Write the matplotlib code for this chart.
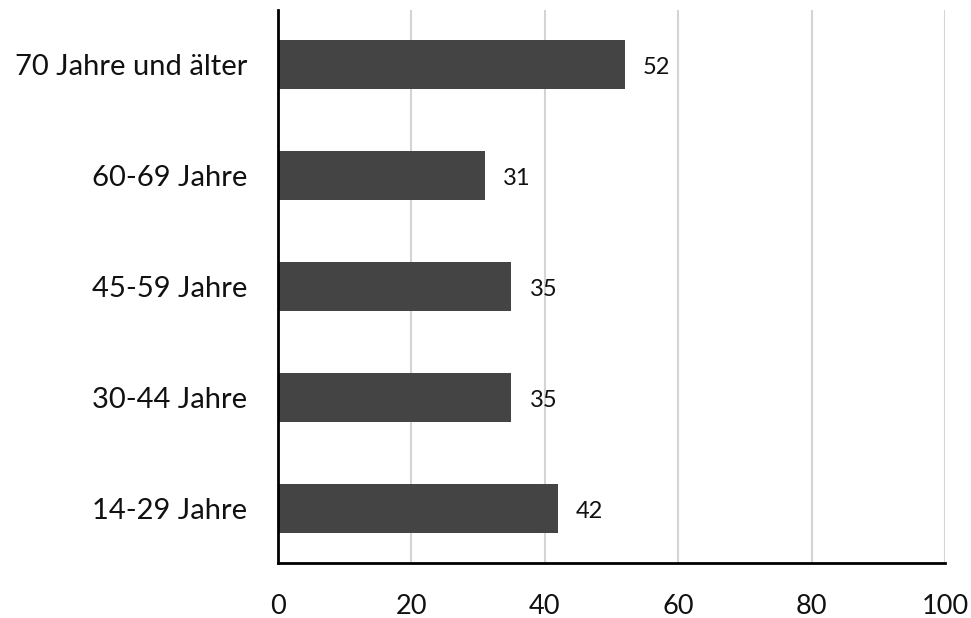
import matplotlib
matplotlib.use('Agg')
import matplotlib.pyplot as plt
import numpy as np

plt.rcParams['font.family'] = ['Lato', 'DejaVu Sans']

categories = ['14-29 Jahre', '30-44 Jahre', '45-59 Jahre', '60-69 Jahre', '70 Jahre und älter']
values = [42, 35, 35, 31, 52]
xticks = [0, 20, 40, 60, 80, 100]

bar_color = '#444444'
grid_color = '#d4d4d4'

fig = plt.figure(figsize=(9.71, 6.18), dpi=100)
ax = fig.add_axes([0.2863, 0.089, 0.6869, 0.8949])

y = np.arange(len(categories))
bars = ax.barh(y, values, height=0.44, color=bar_color, zorder=3)

for rect, v in zip(bars, values):
    ax.annotate('{}'.format(v),
                xy=(rect.get_width(), rect.get_y() + rect.get_height() / 2),
                xytext=(13, -2), textcoords='offset points',
                ha='left', va='center', fontsize=17, color='#111111')

ax.set_xlim(0, 100)
ax.set_ylim(-0.49, 4.49)
ax.set_xticks(xticks)
ax.set_yticks(y)
ax.set_yticklabels(categories, fontsize=21)
ax.tick_params(axis='both', length=0, colors='#111111')
ax.tick_params(axis='x', labelsize=19.5, pad=22)
ax.tick_params(axis='y', pad=22)

ax.xaxis.grid(True, color=grid_color, linewidth=1.5, zorder=0)
ax.set_axisbelow(True)

for s in ['top', 'right']:
    ax.spines[s].set_visible(False)
ax.spines['left'].set_linewidth(2)
ax.spines['bottom'].set_linewidth(2)
ax.spines['left'].set_zorder(4)

plt.savefig('out.png', dpi=100)
